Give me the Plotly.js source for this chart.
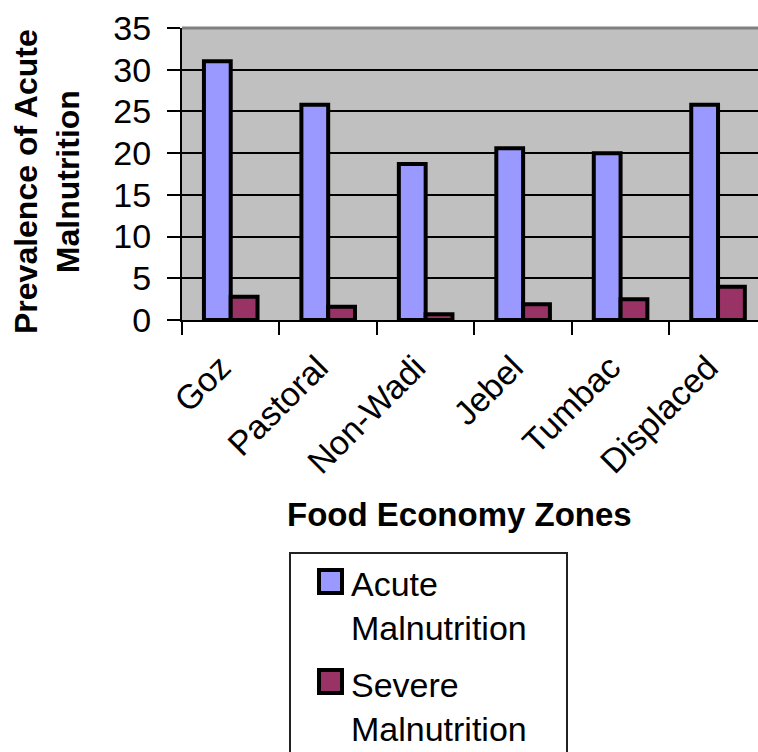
<!DOCTYPE html>
<html>
<head>
<meta charset="utf-8">
<script src="https://cdn.plot.ly/plotly-3.0.1.min.js"></script>
<style>
  html, body { margin: 0; padding: 0; background: #ffffff; }
  #chart { width: 758px; height: 752px; }
</style>
</head>
<body>
<div id="chart"></div>
<script>
// ---- Data ----
var zones = ["Goz", "Pastoral", "Non-Wadi", "Jebel", "Tumbac", "Displaced"];
var acuteValues = [31.0, 25.8, 18.7, 20.6, 20.0, 25.8];
var severeValues = [2.8, 1.6, 0.7, 1.9, 2.5, 4.0];
var seriesNames = ["Acute<br>Malnutrition", "Severe<br>Malnutrition"];
var seriesColors = ["#9999FF", "#993366"];
var yTicks = [0, 5, 10, 15, 20, 25, 30, 35];

// ---- Layout geometry (pixels) ----
var W = 758, H = 752;
var plotL = 182, plotR = 758, plotT = 28, plotB = 320;
function px(x) { return (x - plotL) / (plotR - plotL); }
function py(y) { return (plotB - y) / (plotB - plotT); }

var FONT = "Liberation Sans, Arial, Helvetica, sans-serif";

var traces = [
  {
    type: "bar", x: zones, y: acuteValues, name: seriesNames[0],
    marker: { color: seriesColors[0], line: { color: "#000000", width: 4 } },
    showlegend: false, hoverinfo: "x+y"
  },
  {
    type: "bar", x: zones, y: severeValues, name: seriesNames[1],
    marker: { color: seriesColors[1], line: { color: "#000000", width: 4 } },
    showlegend: false, hoverinfo: "x+y"
  }
];

// custom legend (box, swatches, texts)
var legendBox = { x0: 290, x1: 567, y0: 553, y1: 790 };
var swatchTops = [568, 668];
var textCenters = [606, 707];

var shapes = [
  // top frame of plot area (gray)
  { type: "line", xref: "paper", yref: "paper", x0: 0, x1: 1, y0: 1, y1: 1,
    line: { color: "#808080", width: 3 }, layer: "above" },
  // legend box
  { type: "rect", xref: "paper", yref: "paper",
    x0: px(legendBox.x0), x1: px(legendBox.x1), y0: py(legendBox.y0), y1: py(legendBox.y1),
    line: { color: "#222222", width: 2 }, fillcolor: "rgba(255,255,255,0)", layer: "above" }
];
var annotations = [
  { xref: "paper", yref: "paper", x: px(459), y: py(514), xanchor: "center", yanchor: "middle",
    text: "<b>Food Economy Zones</b>", showarrow: false,
    font: { family: FONT, size: 33, color: "#000000" } },
  { xref: "paper", yref: "paper", x: px(47), y: py(182), xanchor: "center", yanchor: "middle",
    text: "<b>Prevalence of Acute<br>Malnutrition</b>", textangle: -90, showarrow: false,
    font: { family: FONT, size: 32, color: "#000000" } }
];
for (var i = 0; i < seriesNames.length; i++) {
  shapes.push({ type: "rect", xref: "paper", yref: "paper",
    x0: px(319), x1: px(342), y0: py(swatchTops[i] + 2), y1: py(swatchTops[i] + 25),
    fillcolor: seriesColors[i], line: { color: "#000000", width: 4 }, layer: "above" });
  annotations.push({ xref: "paper", yref: "paper", x: px(349), y: py(textCenters[i]),
    xanchor: "left", yanchor: "middle", align: "left", showarrow: false,
    text: seriesNames[i], font: { family: FONT, size: 34, color: "#000000" } });
}

var layout = {
  width: W, height: H,
  margin: { l: plotL, r: W - plotR, t: plotT, b: H - plotB, pad: 0 },
  paper_bgcolor: "#ffffff",
  plot_bgcolor: "#C0C0C0",
  barmode: "group",
  bargap: 0.45,
  bargroupgap: 0,
  showlegend: false,
  font: { family: FONT, color: "#000000" },
  xaxis: {
    type: "category",
    range: [-0.5, 5.41],
    tickson: "boundaries",
    ticks: "outside", ticklen: 13, tickwidth: 2, tickcolor: "#000000",
    showline: true, linecolor: "#000000", linewidth: 2,
    showgrid: false, zeroline: false,
    tickangle: -45,
    tickfont: { family: FONT, size: 34, color: "#000000" },
    ticklabelstandoff: 12,
    ticklabelshift: -10,
    fixedrange: true
  },
  yaxis: {
    range: [0, 35],
    tickvals: yTicks,
    ticktext: yTicks.map(String),
    ticks: "outside", ticklen: 13, tickwidth: 2, tickcolor: "#000000",
    showline: true, linecolor: "#000000", linewidth: 2,
    showgrid: true, gridcolor: "#000000", gridwidth: 2,
    zeroline: false,
    tickfont: { family: FONT, size: 34, color: "#000000" },
    ticklabelstandoff: 9,
    fixedrange: true
  },
  shapes: shapes,
  annotations: annotations
};

Plotly.newPlot("chart", traces, layout, { displayModeBar: false, staticPlot: true });
</script>
</body>
</html>
